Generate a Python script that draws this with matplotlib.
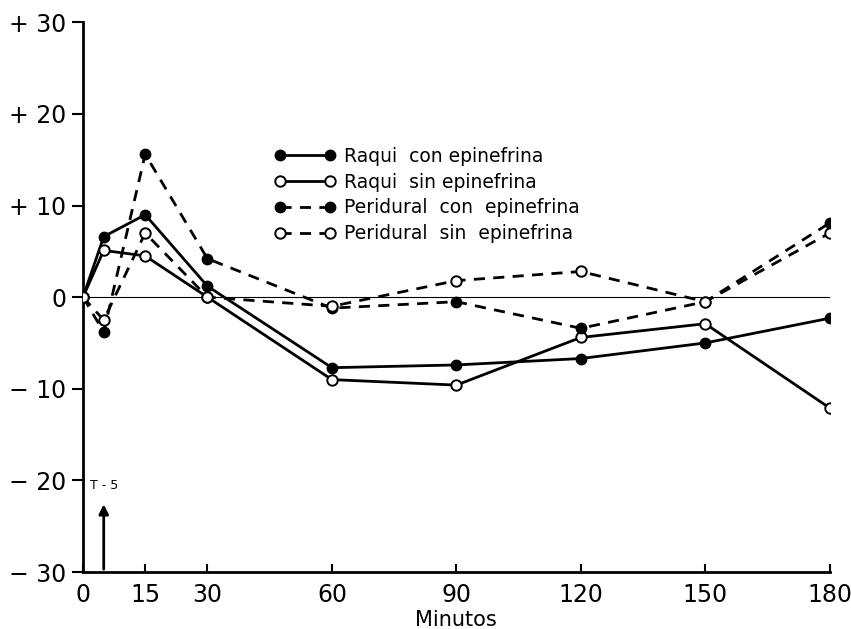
import numpy as np
import matplotlib
matplotlib.use('Agg')
import matplotlib.pyplot as plt

# Data
minutos = [0, 5, 15, 30, 60, 90, 120, 150, 180]
raqui_con = [0, 6.6, 9.0, 1.2, -7.7, -7.4, -6.7, -5.0, -2.3]
raqui_sin = [0, 5.1, 4.5, 0.0, -9.0, -9.6, -4.4, -2.9, -12.1]
peri_con = [0, -3.8, 15.6, 4.2, -1.2, -0.5, -3.4, -0.5, 8.1]
peri_sin = [0, -2.5, 7.0, 0.0, -1.0, 1.8, 2.8, -0.5, 7.0]

xticks = [0, 15, 30, 60, 90, 120, 150, 180]
yticks = [-30, -20, -10, 0, 10, 20, 30]
ylabels = ['\u2212 30', '\u2212 20', '\u2212 10', '0', '+ 10', '+ 20', '+ 30']

plt.rcParams['font.family'] = ['DejaVu Sans']

fig = plt.figure(figsize=(8.51, 6.29), dpi=100)
ax = fig.add_axes([0.0975, 0.0906, 0.8775, 0.874])

ax.axhline(0, color='black', lw=0.8, zorder=1)

lw = 2.0
ms = 7.5
ax.plot(minutos, raqui_con, '-', color='black', lw=lw, marker='o', ms=ms,
        mfc='black', mec='black', label='Raqui  con epinefrina', zorder=3)
ax.plot(minutos, raqui_sin, '-', color='black', lw=lw, marker='o', ms=ms,
        mfc='white', mec='black', mew=1.4, label='Raqui  sin epinefrina', zorder=3)
ax.plot(minutos, peri_con, '--', color='black', lw=lw, marker='o', ms=ms,
        mfc='black', mec='black', dashes=(4, 3), label='Peridural  con  epinefrina', zorder=3)
ax.plot(minutos, peri_sin, '--', color='black', lw=lw, marker='o', ms=ms,
        mfc='white', mec='black', mew=1.4, dashes=(4, 3), label='Peridural  sin  epinefrina', zorder=3)

# T-5 arrow
ax.annotate('', xy=(5, -22.3), xytext=(5, -30),
            arrowprops=dict(arrowstyle='-|>', color='black', lw=2, mutation_scale=14))
ax.text(5, -21.3, 'T - 5', ha='center', va='bottom', fontsize=9)

ax.set_xlim(0, 180)
ax.set_ylim(-30, 30)
ax.set_xticks(xticks)
ax.set_yticks(yticks)
ax.set_yticklabels(ylabels)
ax.tick_params(axis='y', direction='out', length=8, width=1.5, labelsize=17, pad=4)
ax.tick_params(axis='x', direction='in', length=6, width=1.5, labelsize=17, pad=8)
for s in ['top', 'right']:
    ax.spines[s].set_visible(False)
for s in ['left', 'bottom']:
    ax.spines[s].set_linewidth(2)
ax.set_xlabel('Minutos', fontsize=15, labelpad=2)

ax.legend(loc='upper left', bbox_to_anchor=(0.246, 0.787), frameon=False,
          numpoints=2, handlelength=3.3, fontsize=13.5, labelspacing=0.36,
          handletextpad=0.4, borderaxespad=0)

fig.savefig('out.png', dpi=100)
